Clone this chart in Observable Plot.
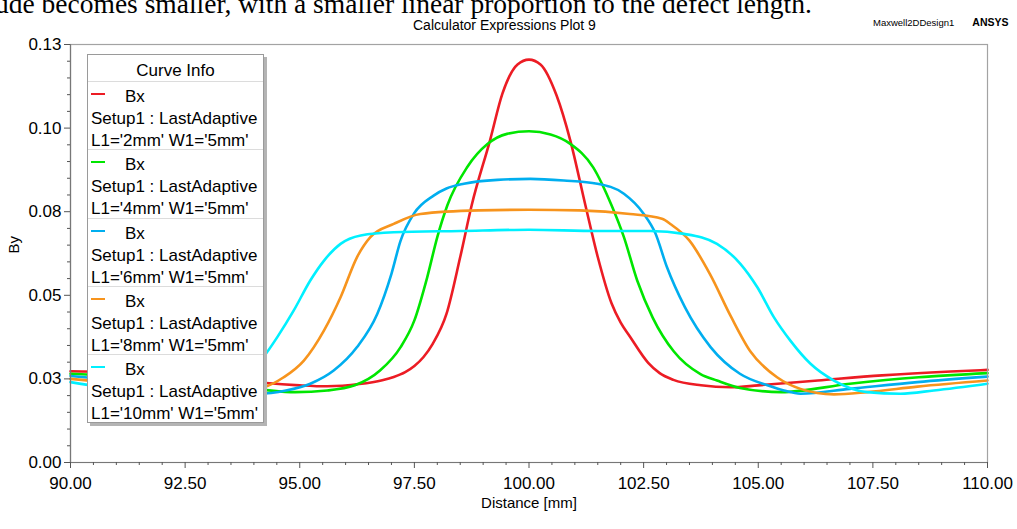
<!DOCTYPE html>
<html><head><meta charset="utf-8">
<script src="https://cdn.jsdelivr.net/npm/d3@7"></script>
<script src="https://cdn.jsdelivr.net/npm/@observablehq/plot@0.6"></script>
<style>
body{margin:0;background:#fff;}
#wrap{position:relative;width:1017px;height:529px;overflow:hidden;font-family:"Liberation Sans",Arial,sans-serif;background:#fff;}
#wrap svg{position:absolute;left:0;top:0;}
.doc{position:absolute;left:-5px;top:-9px;height:26px;overflow:visible;font-family:"Liberation Serif","Times New Roman",serif;font-size:27.5px;line-height:26px;white-space:nowrap;color:#000;}
.title{position:absolute;left:413px;top:18px;font-size:14px;line-height:15px;color:#000;white-space:nowrap;}
.brand{position:absolute;top:16px;left:873px;font-size:9.5px;white-space:nowrap;color:#000;}
.brand b{margin-left:18px;font-size:10.5px;}
.legend{position:absolute;left:87px;top:54px;width:175px;height:367px;background:#fff;border:1px solid #9a9a9a;box-shadow:3px 3px 0 #b4b4b4;font-size:17px;color:#000;}
.lt{position:absolute;top:5px;left:0;right:0;text-align:center;line-height:22px;}
.le{position:absolute;left:0;right:0;height:68.3px;border-top:1px solid #dcdcdc;box-sizing:border-box;padding:4px 0 0 3px;line-height:22px;white-space:nowrap;}
.le .bx{padding-left:34px;}
.le .sw{position:absolute;left:3px;top:11px;width:14px;height:2px;}
</style></head><body><div id="wrap"></div>
<script>
// ---- data (Distance in mm, By values) ----
const xTicks = [90, 92.5, 95, 97.5, 100, 102.5, 105, 107.5, 110];
const yTicks = [0, 0.026, 0.052, 0.078, 0.104, 0.13];
const seriesNames = ["L1='2mm' W1='5mm'", "L1='4mm' W1='5mm'", "L1='6mm' W1='5mm'", "L1='8mm' W1='5mm'", "L1='10mm' W1='5mm'"];
const seriesColors = ["#ec1c24", "#00e600", "#00aeef", "#f7941d", "#00f0ff"];

const xL2 = [90, 90.8, 92.3, 93.7, 94.2, 95, 95.6, 96.3, 96.8, 97.05, 97.3, 97.5, 97.7, 97.9, 98.2, 98.5, 98.75, 99.15, 99.42, 99.75, 100, 100.25, 100.6, 100.9, 101.23, 101.5, 101.8, 102.0, 102.2, 102.6, 102.85, 103.15, 103.75, 104.4, 105, 106.3, 107.7, 109.2, 110];
const byL2 = [0.0284, 0.0282, 0.0271, 0.0255, 0.0248, 0.0240, 0.0237, 0.0244, 0.0256, 0.0266, 0.0281, 0.0300, 0.0328, 0.0369, 0.0462, 0.0639, 0.0800, 0.1002, 0.1147, 0.1238, 0.1253, 0.1238, 0.1142, 0.1002, 0.0800, 0.0639, 0.0495, 0.0435, 0.0392, 0.0310, 0.0278, 0.0257, 0.0240, 0.0234, 0.0240, 0.0255, 0.0271, 0.0283, 0.0288];

const xL4 = [90, 91.5, 93, 94.2, 94.9, 95.6, 96.2, 96.75, 97.2, 97.5, 97.78, 98.0, 98.22, 98.65, 99.1, 99.52, 100, 100.47, 100.9, 101.4, 101.8, 102.07, 102.36, 102.7, 103.16, 103.74, 104.1, 104.6, 105.5, 107, 108.5, 110];
const byL4 = [0.0276, 0.0264, 0.0244, 0.0226, 0.0219, 0.0224, 0.0240, 0.0286, 0.0359, 0.0442, 0.0576, 0.0701, 0.0800, 0.0918, 0.0991, 0.1022, 0.1030, 0.1020, 0.0991, 0.0918, 0.0800, 0.0701, 0.0566, 0.0450, 0.0345, 0.0275, 0.0255, 0.0232, 0.0219, 0.0245, 0.0265, 0.0278];

const xL6 = [90, 91.5, 93, 94.1, 94.7, 95.23, 95.74, 96.25, 96.69, 97.0, 97.2, 97.49, 97.92, 98.2, 98.58, 99.31, 100.03, 100.76, 101.49, 102.07, 102.5, 102.75, 103.01, 103.4, 103.96, 104.6, 105.2, 105.56, 105.92, 107, 108.47, 110];
const byL6 = [0.0269, 0.0250, 0.0229, 0.0214, 0.0224, 0.0245, 0.0286, 0.0359, 0.0462, 0.0587, 0.0690, 0.0774, 0.0830, 0.0852, 0.0867, 0.0879, 0.0882, 0.0877, 0.0867, 0.0836, 0.0774, 0.0715, 0.0607, 0.0483, 0.0359, 0.0276, 0.0240, 0.0224, 0.0214, 0.0229, 0.0250, 0.0267];

const xL8 = [90, 91.5, 92.6, 93.35, 94.08, 94.22, 94.65, 95.09, 95.53, 95.89, 96.25, 96.54, 97.05, 97.63, 98.9, 100, 101.1, 102.2, 102.9, 103.1, 103.5, 103.95, 104.4, 104.83, 105.41, 105.92, 106.65, 107.38, 108.47, 110];
const byL8 = [0.0260, 0.0238, 0.0219, 0.0212, 0.0229, 0.0234, 0.0265, 0.0317, 0.0411, 0.0514, 0.0639, 0.0701, 0.0742, 0.0773, 0.0784, 0.0786, 0.0784, 0.0773, 0.0758, 0.0740, 0.0690, 0.0585, 0.0455, 0.0345, 0.0265, 0.0229, 0.0212, 0.0219, 0.0236, 0.0255];

const xL10 = [90, 91.2, 91.9, 92.6, 93.35, 93.9, 94.22, 94.51, 94.87, 95.23, 95.53, 95.89, 96.33, 97.05, 98.5, 100, 101.5, 102.65, 103.38, 104.1, 104.61, 104.98, 105.34, 105.7, 106.14, 106.65, 107.38, 108.1, 108.83, 110];
const byL10 = [0.0250, 0.0224, 0.0214, 0.0216, 0.0235, 0.0275, 0.0330, 0.0390, 0.0473, 0.0566, 0.0628, 0.0680, 0.0706, 0.0716, 0.0720, 0.0724, 0.0720, 0.0720, 0.0711, 0.0680, 0.0618, 0.0545, 0.0452, 0.0379, 0.0307, 0.0255, 0.0219, 0.0214, 0.0224, 0.0245];

const seriesX = [xL2, xL4, xL6, xL8, xL10];
const seriesY = [byL2, byL4, byL6, byL8, byL10];

// build long table
const rows = [];
seriesX.forEach((xs, i) => xs.forEach((x, j) => rows.push({series: seriesNames[i], distance: x, by: seriesY[i][j]})));

const yMinor = d3.range(0, 26).map(i => i * 0.0052).filter(v => !yTicks.some(t => Math.abs(t - v) < 1e-9));
const xMinor = d3.range(0, 41).map(i => 90 + i * 0.5).filter(v => !xTicks.includes(v));

const fmt = d3.format(".2f");

const plot = Plot.plot({
  width: 1017, height: 529,
  marginLeft: 70, marginRight: 30, marginTop: 44, marginBottom: 67,
  style: {fontFamily: "'Liberation Sans', Arial, sans-serif", fontSize: "17px", background: "transparent", color: "#000", overflow: "visible"},
  x: {domain: [90, 110]},
  y: {domain: [0, 0.13]},
  color: {domain: seriesNames, range: seriesColors},
  marks: [
    Plot.line(rows, {x: "distance", y: "by", z: "series", stroke: "series", strokeWidth: 2.6, curve: "monotone-x"}),
    Plot.frame({stroke: "#a3a3a3", strokeWidth: 1.2}),
    Plot.ruleX([90], {stroke: "#777", strokeWidth: 1.2}),
    Plot.ruleY([0], {stroke: "#777", strokeWidth: 1.2}),
    Plot.axisY({ticks: yTicks, tickSize: 6, tickPadding: 3, tickFormat: fmt, label: null, stroke: "#555", fontSize: 17}),
    Plot.axisY({ticks: yMinor, tickSize: 3, tickFormat: () => "", label: null, stroke: "#555"}),
    Plot.axisX({ticks: xTicks, tickSize: 6, tickPadding: 8, tickFormat: fmt, label: null, stroke: "#555", fontSize: 17}),
    Plot.axisX({ticks: xMinor, tickSize: 3, tickFormat: () => "", label: null, stroke: "#555"}),
    Plot.text(["Distance [mm]"], {frameAnchor: "bottom", dy: 45, fontSize: 15, fill: "#000"}),
    Plot.text(["By"], {frameAnchor: "left", dx: -56, rotate: -90, fontSize: 15, fill: "#000"})
  ]
});

const wrap = document.getElementById("wrap");
wrap.appendChild(plot);

const doc = document.createElement("div");
doc.className = "doc";
doc.textContent = "ude becomes smaller, with a smaller linear proportion to the defect length.";
wrap.appendChild(doc);

const title = document.createElement("div");
title.className = "title";
title.textContent = "Calculator Expressions Plot 9";
wrap.appendChild(title);

const brand = document.createElement("div");
brand.className = "brand";
brand.innerHTML = "Maxwell2DDesign1<b>ANSYS</b>";
wrap.appendChild(brand);

const legend = document.createElement("div");
legend.className = "legend";
legend.innerHTML = `<div class="lt">Curve Info</div>` + seriesNames.map((name, i) =>
  `<div class="le" style="top:${26 + i * 68.3}px"><span class="sw" style="background:${seriesColors[i]}"></span><div class="bx">Bx</div><div>Setup1 : LastAdaptive</div><div>${name}</div></div>`
).join("");
wrap.appendChild(legend);
</script></body></html>
